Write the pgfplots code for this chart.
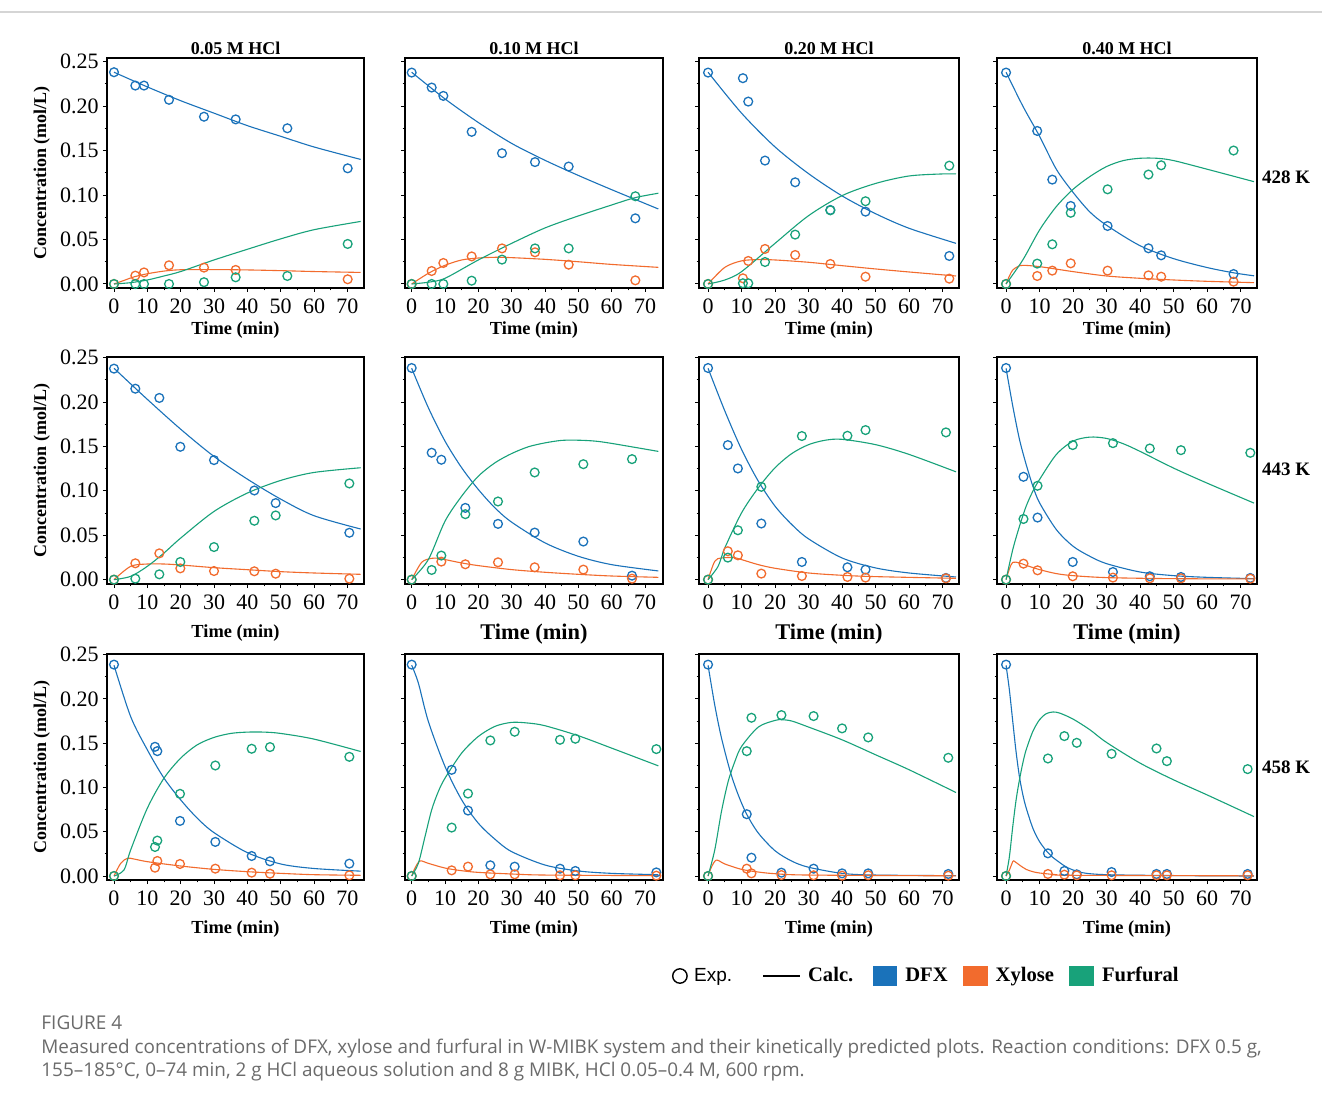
\documentclass[border=0pt]{standalone}
\usepackage{pgfplots}
\pgfplotsset{compat=1.18}
\usepackage{fontspec}
\setmainfont{Liberation Serif}
\newfontfamily\arialfont{Liberation Sans}
\newfontfamily\capfont{Open Sans}
\definecolor{dfx}{HTML}{1A72BA}
\definecolor{xyl}{HTML}{F26B2D}
\definecolor{fur}{HTML}{18A27A}
\definecolor{capgray}{HTML}{6B6B6B}
\definecolor{topline}{HTML}{D5D5D5}

\pgfplotsset{
  every axis title shift=0pt,
  panel/.style={
    scale only axis,
    clip=false,
    axis line style={line width=0.6pt},
    tick align=outside,
    xtick pos=left, ytick pos=left,
    xtick={0,10,20,30,40,50,60,70},
    minor x tick num=1,
    ytick={0,0.05,0.1,0.15,0.2,0.25},
    minor y tick num=1,
    major tick length=2pt, minor tick length=1.2pt,
    every tick/.append style={line width=0.5pt, black},
    tick label style={font=\fontsize{11}{12}\selectfont},
    /pgf/number format/assume math mode=true,
    yticklabel style={xshift=1.3pt, /pgf/number format/.cd, fixed, fixed zerofill, precision=2},
    xlabel={Time (min)},
    xlabel style={font=\fontsize{9.2}{10}\selectfont\bfseries, anchor=base},
    ylabel style={font=\fontsize{9}{10}\selectfont\bfseries, anchor=base, rotate=0},
    title style={font=\fontsize{9}{10}\selectfont\bfseries, anchor=base, at={(axis description cs:0.5,1)}, yshift=1.8pt},
  },
  noy/.style={yticklabels={}},
  row1/.style={height=115pt, ymin=-0.0045, ymax=0.254, xlabel style={at={(axis description cs:0.5,-0.204)}}},
  row2/.style={height=113.5pt, ymin=-0.0049, ymax=0.2507, xlabel style={at={(axis description cs:0.5,-0.2335)}}},
  row2big/.style={xlabel style={font=\fontsize{11.2}{12}\selectfont\bfseries, at={(axis description cs:0.5,-0.244)}}},
  row3/.style={height=113pt, ymin=-0.0045, ymax=0.2507, xlabel style={at={(axis description cs:0.5,-0.2345)}}},
  col1/.style={width=128.5pt, xmin=-2.1, xmax=75, ylabel={Concentration (mol/L)}, ylabel style={at={(axis description cs:-0.237,0.5)}}},
  col2/.style={width=129pt, xmin=-2.0, xmax=75.4, noy},
  col3/.style={width=130pt, xmin=-2.7, xmax=74.9, noy},
  col4/.style={width=130pt, xmin=-2.7, xmax=74.9, noy},
  exp/.style={only marks, mark=o, mark size=2.2pt, mark options={line width=0.65pt}},
  calc/.style={smooth, no marks, line width=0.55pt},
}

\newcommand\drawpanel[6]{%
  \addplot[calc,dfx] coordinates {#2};
  \addplot[calc,xyl] coordinates {#4};
  \addplot[calc,fur] coordinates {#6};
  \addplot[exp,dfx] coordinates {#1};
  \addplot[exp,xyl] coordinates {#3};
  \addplot[exp,fur] coordinates {#5};
}

\begin{document}
\begin{tikzpicture}
\useasboundingbox (0,0) rectangle (661pt,552pt);
\fill[white] (0,0) rectangle (661pt,552pt);
\draw[topline, line width=0.6pt] (0pt,546pt) -- (661pt,546pt);

% ---------------- Row 1 (428 K) ----------------
\begin{axis}[panel,row1,col1, at={(53.5pt,408pt)}, title={0.05 M HCl}]
\drawpanel
{(0,0.238)(6.4,0.223)(9.0,0.223)(16.5,0.207)(27.0,0.188)(36.5,0.185)(52.0,0.175)(70.1,0.130)}
{(0,0.238)(10,0.2215)(20,0.206)(30,0.192)(40,0.178)(50,0.166)(60,0.154)(74,0.140)}
{(0,0.0)(6.4,0.0094)(9.0,0.013)(16.5,0.021)(27.0,0.0184)(36.5,0.0158)(70.1,0.0053)}
{(0,0)(3,0.004)(6,0.008)(10,0.0115)(15,0.0145)(20,0.016)(30,0.0162)(40,0.0158)(50,0.015)(60,0.014)(74,0.013)}
{(0,0)(6.4,0)(9.0,0)(16.5,0)(27,0.002)(36.5,0.0075)(52,0.009)(70.1,0.045)}
{(0,0)(5,0.0015)(10,0.0045)(15,0.009)(20,0.014)(30,0.027)(40,0.039)(50,0.0507)(60,0.061)(74,0.0703)}
\end{axis}

\begin{axis}[panel,row1,col2, at={(202.5pt,408pt)}, title={0.10 M HCl}]
\drawpanel
{(0,0.2376)(6.0,0.2208)(9.5,0.2114)(18.0,0.171)(27.1,0.147)(37.0,0.137)(47.1,0.132)(67.1,0.0738)}
{(0,0.238)(10,0.208)(20,0.1815)(30,0.158)(40,0.139)(50,0.122)(60,0.106)(74,0.0843)}
{(0,0)(6.0,0.0146)(9.5,0.0236)(18.0,0.031)(27.1,0.040)(37.0,0.0356)(47.1,0.0217)(67.1,0.0041)}
{(0,0)(5,0.012)(10,0.021)(15,0.027)(20,0.0292)(25,0.030)(30,0.0296)(40,0.0277)(50,0.025)(60,0.022)(74,0.0187)}
{(0,0)(6,0)(9.5,0)(18,0.0037)(27.1,0.0274)(37,0.040)(47.1,0.040)(67.1,0.0986)}
{(0,0)(5,0.002)(10,0.0064)(20,0.027)(30,0.0457)(40,0.063)(50,0.0765)(60,0.0888)(67,0.097)(74,0.102)}
\end{axis}

\begin{axis}[panel,row1,col3, at={(349.5pt,408pt)}, title={0.20 M HCl}]
\drawpanel
{(0,0.2376)(10.4,0.2313)(12.0,0.205)(17.0,0.1387)(26.0,0.1143)(36.5,0.0832)(47.0,0.0813)(72.0,0.0315)}
{(0,0.238)(10,0.192)(20,0.154)(30,0.124)(40,0.099)(50,0.079)(60,0.0626)(74,0.0457)}
{(0,0)(10.4,0.0064)(12.0,0.0259)(17.0,0.0394)(26.0,0.0326)(36.5,0.0225)(47.0,0.0082)(72.0,0.006)}
{(0,0)(5,0.0187)(10,0.026)(15,0.0274)(20,0.027)(30,0.0244)(40,0.0206)(50,0.0169)(60,0.0135)(74,0.009)}
{(0,0)(10.4,0.0008)(12,0.0008)(17,0.0247)(26,0.0555)(36.5,0.0828)(47,0.093)(72,0.133)}
{(0,0)(5,0.0045)(10,0.0139)(20,0.0457)(30,0.0768)(40,0.0993)(50,0.113)(60,0.1214)(70,0.1237)(74,0.1237)}
\end{axis}

\begin{axis}[panel,row1,col4, at={(498.5pt,408pt)}, title={0.40 M HCl}]
\drawpanel
{(0,0.2376)(9.3,0.172)(13.8,0.1173)(19.3,0.0877)(30.3,0.0652)(42.5,0.0401)(46.3,0.0322)(67.9,0.0112)}
{(0,0.238)(5,0.200)(10,0.166)(15,0.129)(20,0.103)(25,0.081)(30,0.066)(40,0.043)(50,0.0285)(60,0.0185)(68,0.0125)(74,0.0092)}
{(0,0)(9.3,0.009)(13.8,0.015)(19.3,0.0232)(30.3,0.015)(42.5,0.0097)(46.3,0.0082)(67.9,0.0026)}
{(0,0)(1,0.009)(2,0.0157)(3.5,0.0195)(5,0.021)(10,0.0195)(20,0.0139)(30,0.009)(40,0.0064)(50,0.0045)(60,0.003)(74,0.0015)}
{(0,0)(9.3,0.0229)(13.8,0.0446)(19.3,0.080)(30.3,0.1064)(42.5,0.123)(46.3,0.1334)(67.9,0.150)}
{(0,0)(5,0.027)(10,0.0607)(15,0.087)(20,0.1064)(25,0.1207)(30,0.132)(35,0.1387)(40,0.1413)(45,0.1413)(50,0.1387)(60,0.129)(74,0.115)}
\node[font=\fontsize{9.5}{10}\selectfont\bfseries, anchor=center] at (axis description cs:1.112,0.483) {428 K};
\end{axis}

% ---------------- Row 2 (443 K) ----------------
\begin{axis}[panel,row2,col1, at={(53.5pt,260pt)}]
\drawpanel
{(0,0.2376)(6.4,0.215)(13.6,0.2046)(19.9,0.1496)(30.0,0.1346)(42.1,0.1004)(48.5,0.0862)(70.6,0.0528)}
{(0,0.238)(10,0.203)(20,0.1694)(30,0.1387)(40,0.1132)(50,0.0907)(60,0.072)(74,0.057)}
{(0,0)(6.4,0.0184)(13.6,0.0296)(19.9,0.0127)(30,0.0097)(42.1,0.0094)(48.5,0.0067)(70.6,0.0011)}
{(0,0)(5,0.015)(10,0.0176)(15,0.0176)(20,0.0165)(30,0.0135)(40,0.0112)(50,0.009)(60,0.0075)(74,0.006)}
{(0,0)(6.4,0.0011)(13.6,0.006)(19.9,0.0199)(30,0.0367)(42.1,0.0663)(48.5,0.0723)(70.6,0.1083)}
{(0,0)(5,0.0037)(10,0.015)(15,0.03)(20,0.0468)(30,0.0768)(40,0.0975)(50,0.1117)(60,0.1207)(74,0.126)}
\end{axis}

\begin{axis}[panel,row2,row2big,col2, at={(202.5pt,260pt)}]
\drawpanel
{(0,0.2383)(6.0,0.1429)(8.9,0.135)(16.1,0.0808)(25.9,0.0628)(36.9,0.053)(51.5,0.0429)(66.1,0.0045)}
{(0,0.238)(5,0.1936)(10,0.156)(15,0.126)(20,0.1015)(25,0.0808)(30,0.0647)(40,0.0414)(50,0.0263)(60,0.0169)(74,0.0098)}
{(0,0)(8.9,0.0203)(16.1,0.0173)(25.9,0.0195)(36.9,0.0139)(51.5,0.0113)(66.1,0.0011)}
{(0,0)(3,0.0195)(6,0.024)(8,0.024)(10,0.0226)(15,0.0188)(20,0.0158)(30,0.0113)(40,0.0083)(50,0.006)(60,0.0041)(74,0.0026)}
{(0,0)(6.0,0.0109)(8.9,0.0271)(16.1,0.0737)(25.9,0.088)(36.9,0.1207)(51.5,0.130)(66.1,0.1357)}
{(0,0)(5,0.0226)(10,0.0658)(15,0.094)(20,0.1165)(25,0.1316)(30,0.142)(35,0.1496)(40,0.154)(45,0.1568)(50,0.157)(55,0.156)(60,0.1534)(74,0.1444)}
\end{axis}

\begin{axis}[panel,row2,row2big,col3, at={(349.5pt,260pt)}]
\drawpanel
{(0,0.2383)(5.9,0.1515)(8.9,0.1252)(15.9,0.0632)(28.0,0.0199)(41.6,0.0139)(47.0,0.0113)(71.0,0.0019)}
{(0,0.238)(5,0.19)(10,0.1466)(15,0.1109)(20,0.0827)(25,0.062)(30,0.0459)(40,0.0244)(50,0.0132)(60,0.0075)(74,0.003)}
{(0,0)(5.9,0.032)(8.9,0.0274)(15.9,0.0068)(28,0.0041)(41.6,0.003)(47,0.0023)(71,0.0015)}
{(0,0)(2,0.0207)(4,0.0244)(8,0.0248)(10,0.0226)(15,0.0169)(20,0.0128)(30,0.0075)(40,0.0049)(50,0.0034)(74,0.0015)}
{(0,0)(5.9,0.0248)(8.9,0.0556)(15.9,0.1045)(28,0.1617)(41.6,0.162)(47,0.1684)(71,0.1658)}
{(0,0)(3,0.015)(5,0.0357)(10,0.0752)(15,0.1034)(20,0.126)(25,0.142)(30,0.152)(35,0.157)(40,0.158)(50,0.152)(60,0.141)(74,0.1214)}
\end{axis}

\begin{axis}[panel,row2,row2big,col4, at={(498.5pt,260pt)}]
\drawpanel
{(0,0.2383)(5.2,0.1158)(9.4,0.0699)(19.9,0.0199)(31.9,0.0086)(42.9,0.0038)(52.2,0.003)(72.9,0.0019)}
{(0,0.238)(2,0.1955)(4,0.158)(6,0.1297)(8,0.1053)(10,0.0865)(15,0.0564)(20,0.0376)(25,0.0263)(30,0.018)(40,0.0086)(50,0.0045)(60,0.0026)(74,0.0011)}
{(0,0)(5.2,0.018)(9.4,0.0105)(19.9,0.0038)(31.9,0.0023)(42.9,0.0015)(52.2,0.0015)(72.9,0.0011)}
{(0,0)(1,0.012)(2,0.0195)(4,0.0188)(6,0.0161)(10,0.0113)(15,0.0068)(20,0.0045)(30,0.0023)(50,0.0011)(74,0.0008)}
{(0,0)(5.2,0.0683)(9.4,0.1057)(19.9,0.1515)(31.9,0.1537)(42.9,0.1477)(52.2,0.1458)(72.9,0.1428)}
{(0,0)(2,0.0338)(4,0.06)(6,0.0827)(8,0.0996)(10,0.1128)(15,0.1409)(20,0.156)(25,0.1605)(30,0.159)(35,0.153)(40,0.1444)(50,0.1256)(60,0.1087)(74,0.0862)}
\node[font=\fontsize{9.5}{10}\selectfont\bfseries, anchor=center] at (axis description cs:1.112,0.507) {443 K};
\end{axis}

% ---------------- Row 3 (458 K) ----------------
\begin{axis}[panel,row3,col1, at={(53.5pt,112pt)}]
\drawpanel
{(0,0.2387)(12.3,0.1459)(13.0,0.141)(19.8,0.0622)(30.4,0.0385)(41.3,0.0226)(46.8,0.0166)(70.6,0.014)}
{(0,0.238)(5,0.180)(10,0.1425)(15,0.1105)(20,0.086)(25,0.0652)(30,0.049)(40,0.0264)(50,0.0136)(60,0.0085)(74,0.0055)}
{(0,0)(12.3,0.0094)(13.0,0.017)(19.8,0.0136)(30.4,0.0083)(41.3,0.0038)(46.8,0.0026)(70.6,0.0008)}
{(0,0)(2,0.0143)(4,0.020)(6,0.0192)(10,0.0162)(20,0.0113)(30,0.0075)(40,0.0049)(50,0.003)(60,0.0015)(74,0.0008)}
{(0,0)(12.3,0.0328)(13.0,0.040)(19.8,0.0928)(30.4,0.1248)(41.3,0.1437)(46.8,0.1456)(70.6,0.1346)}
{(0,0)(3,0.0068)(5,0.0294)(10,0.0766)(15,0.1105)(20,0.1331)(25,0.1482)(30,0.1565)(35,0.161)(40,0.1625)(45,0.1625)(50,0.161)(60,0.1546)(74,0.1406)}
\end{axis}

\begin{axis}[panel,row3,col2, at={(202.5pt,112pt)}]
\drawpanel
{(0,0.2387)(12.0,0.1199)(16.9,0.0739)(23.6,0.0121)(30.9,0.0106)(44.5,0.0083)(49.1,0.0057)(73.4,0.0041)}
{(0,0.238)(2,0.218)(5,0.1746)(10,0.1237)(15,0.086)(20,0.0596)(25,0.0415)(30,0.0275)(40,0.0124)(50,0.0057)(60,0.003)(74,0.0015)}
{(0,0)(12.0,0.0064)(16.9,0.0106)(23.6,0.0019)(30.9,0.0019)(44.5,0.0008)(49.1,0.0008)(73.4,0.0004)}
{(0,0)(1,0.009)(2.5,0.017)(5,0.0143)(10,0.009)(15,0.006)(20,0.0041)(30,0.0023)(40,0.0011)(74,0.0004)}
{(0,0)(12.0,0.0547)(16.9,0.0931)(23.6,0.1531)(30.9,0.1629)(44.5,0.1538)(49.1,0.155)(73.4,0.1433)}
{(0,0)(2,0.0143)(4,0.0445)(6,0.0747)(8,0.0954)(10,0.1105)(15,0.1388)(20,0.1576)(25,0.169)(30,0.1735)(35,0.1727)(40,0.1697)(50,0.1584)(60,0.1444)(74,0.1244)}
\end{axis}

\begin{axis}[panel,row3,col3, at={(349.5pt,112pt)}]
\drawpanel
{(0,0.2387)(11.55,0.0698)(12.95,0.0207)(21.9,0.0038)(31.5,0.0083)(40.0,0.003)(47.8,0.003)(71.7,0.0023)}
{(0,0.238)(2,0.193)(4,0.156)(6.7,0.117)(9,0.0917)(11.5,0.07)(15,0.0485)(20,0.0285)(25,0.0168)(30,0.0099)(40,0.003)(50,0.0011)(74,0.0004)}
{(0,0)(11.55,0.0083)(12.95,0.003)(21.9,0.0011)(31.5,0.0008)(40,0.0004)(47.8,0.0008)(71.7,0.0004)}
{(0,0)(1,0.01)(2.5,0.018)(5,0.0136)(10,0.0075)(15,0.0045)(20,0.0026)(30,0.0011)(74,0.0002)}
{(0,0)(11.55,0.141)(12.95,0.1787)(21.9,0.1817)(31.5,0.1806)(40.0,0.1667)(47.8,0.1565)(71.7,0.1335)}
{(0,0)(2,0.0294)(4,0.0728)(6,0.1067)(8,0.1293)(10,0.1463)(15,0.1682)(20,0.1757)(22,0.1765)(25,0.175)(30,0.1682)(40,0.1538)(50,0.1369)(60,0.12)(74,0.0943)}
\end{axis}

\begin{axis}[panel,row3,col4, at={(498.5pt,112pt)},
  legend style={at={(axis description cs:-1.25,-0.4248)}, anchor=west, draw=none, fill=none,
    legend columns=5, inner sep=0pt, outer sep=0pt, column sep=0pt,
    nodes={inner sep=0pt, outer sep=0pt},
    font=\fontsize{10.3}{11}\selectfont\bfseries},
  legend cell align=left]
\addlegendimage{legend image code/.code={\draw[black,line width=0.7pt,fill=none] (3.6pt,0pt) circle (3.6pt); \path[draw=none,fill=none] (0pt,0pt) -- (10.7pt,0pt);}}
\addlegendentry{\mdseries\arialfont\fontsize{9.5}{10}\selectfont Exp.}
\addlegendimage{legend image code/.code={\draw[black,line width=0.7pt] (0pt,0pt) -- (18.5pt,0pt); \path[draw=none,fill=none] (-15.5pt,0pt) -- (22.5pt,0pt);}}
\addlegendentry{Calc.}
\addlegendimage{legend image code/.code={\fill[dfx,draw=none] (0pt,-5pt) rectangle (12pt,5pt); \path[draw=none,fill=none] (-10pt,0pt) -- (16pt,0pt);}}
\addlegendentry{DFX}
\addlegendimage{legend image code/.code={\fill[xyl,draw=none] (0pt,-5pt) rectangle (12.5pt,5pt); \path[draw=none,fill=none] (-7.5pt,0pt) -- (16.5pt,0pt);}}
\addlegendentry{Xylose}
\addlegendimage{legend image code/.code={\fill[fur,draw=none] (0pt,-5pt) rectangle (12.5pt,5pt); \path[draw=none,fill=none] (-7.5pt,0pt) -- (16.5pt,0pt);}}
\addlegendentry{Furfural}
\drawpanel
{(0,0.2387)(12.5,0.0256)(17.4,0.0057)(21.1,0.0019)(31.5,0.0045)(44.9,0.0023)(48.0,0.0023)(72.1,0.0023)}
{(0,0.238)(1,0.21)(2,0.1746)(3,0.14)(4,0.112)(5,0.092)(6,0.077)(8,0.054)(10,0.0388)(12.5,0.0264)(15,0.018)(20,0.0068)(30,0.0015)(74,0.0)}
{(0,0)(12.5,0.0023)(17.4,0.0015)(21.1,0.0008)(31.5,0.0008)(44.9,0.0008)(48.0,0.0008)(72.1,0.0008)}
{(0,0)(1,0.0068)(2,0.0162)(2.5,0.0166)(4,0.0124)(6,0.0075)(8,0.0049)(10,0.0034)(15,0.0015)(20,0.0008)(74,0.0002)}
{(0,0)(12.5,0.1327)(17.4,0.158)(21.1,0.1504)(31.5,0.138)(44.9,0.144)(48.0,0.1297)(72.1,0.1207)}
{(0,0)(1,0.0219)(2,0.0558)(3,0.086)(4,0.1086)(5,0.1275)(6,0.1425)(8,0.1633)(10,0.1765)(12,0.1833)(14,0.1852)(16,0.184)(20,0.1772)(25,0.1652)(30,0.1508)(40,0.1275)(50,0.1086)(60,0.0916)(74,0.0671)}
\node[font=\fontsize{9.5}{10}\selectfont\bfseries, anchor=center] at (axis description cs:1.112,0.5) {458 K};
\end{axis}

% ---------------- Caption ----------------
\node[anchor=base west, inner sep=0pt, text=capgray, font=\capfont\fontsize{9.5}{10}\selectfont] at (20.5pt,37.5pt) {FIGURE 4};
\node[anchor=base west, inner sep=0pt, text=capgray, font=\capfont\fontsize{9.45}{10}\selectfont] at (20.5pt,25.5pt) {Measured concentrations of DFX, xylose and furfural in W-MIBK system and their kinetically predicted plots. Reaction conditions: DFX 0.5 g,};
\node[anchor=base west, inner sep=0pt, text=capgray, font=\capfont\fontsize{9.45}{10}\selectfont] at (20.5pt,14pt) {155–185°C, 0–74 min, 2 g HCl aqueous solution and 8 g MIBK, HCl 0.05–0.4 M, 600 rpm.};
\end{tikzpicture}
\end{document}
